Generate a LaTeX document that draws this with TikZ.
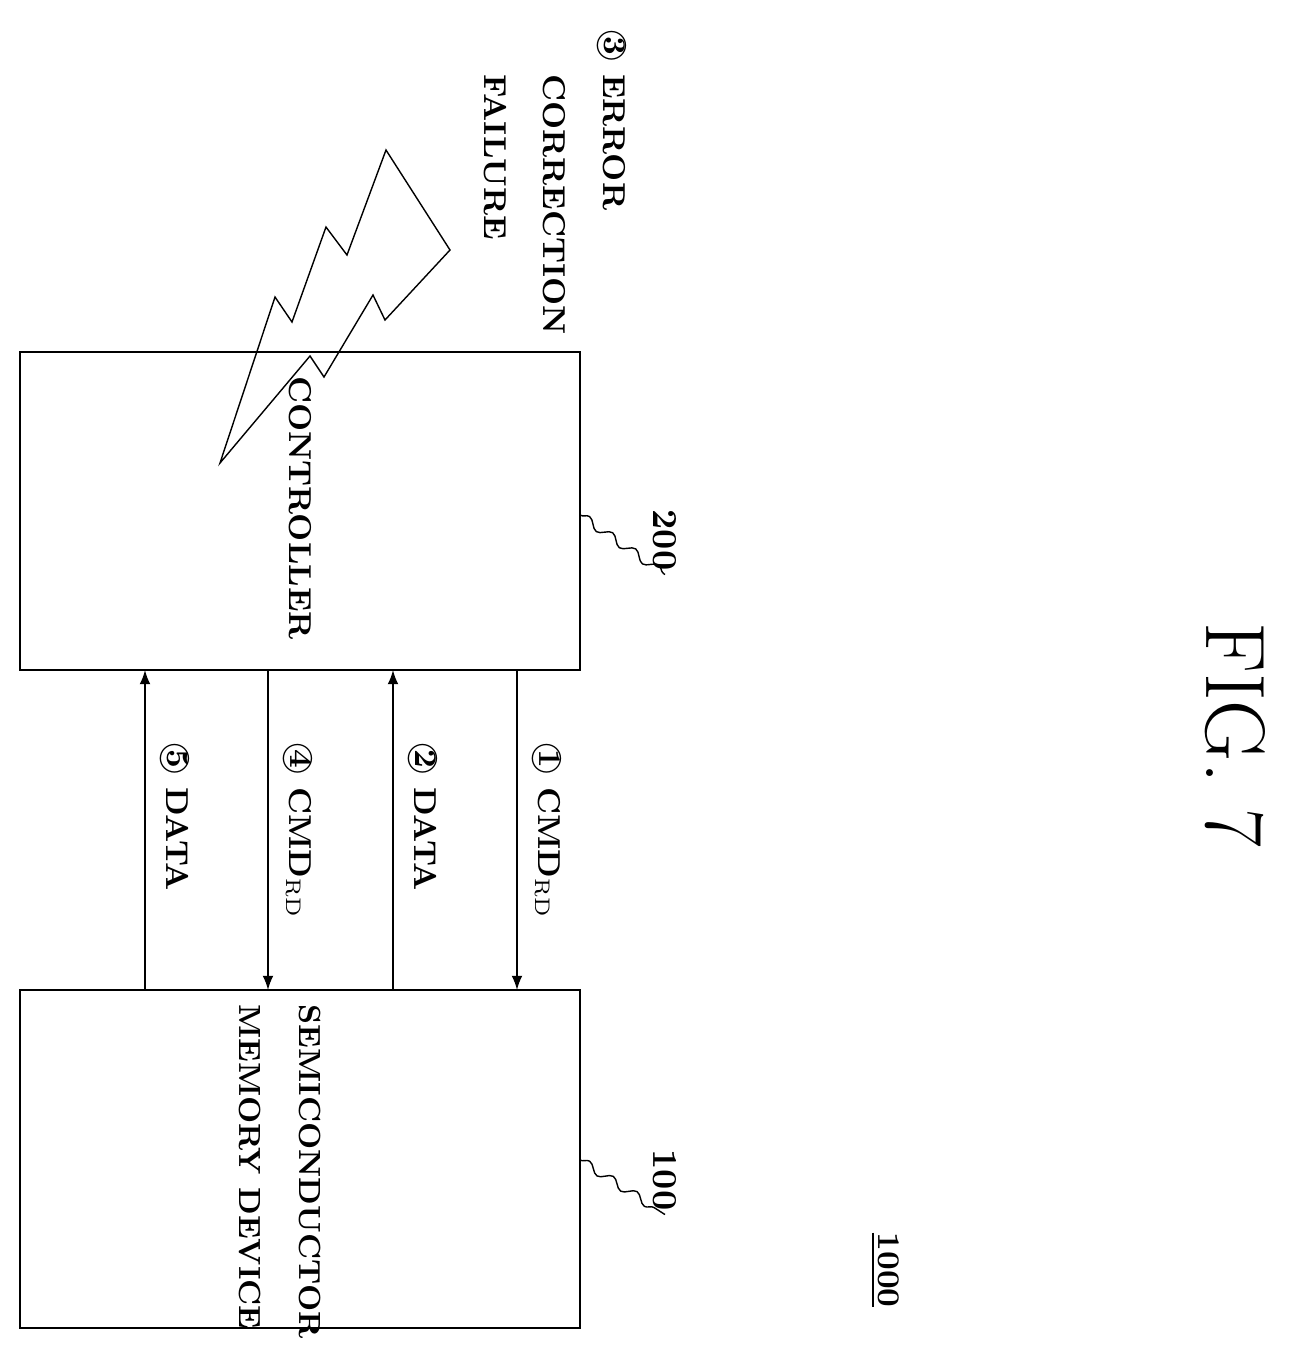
\documentclass[tikz,border=0pt]{standalone}
\usepackage{tikz}
\usetikzlibrary{decorations.pathmorphing}
\begin{document}
\begin{tikzpicture}[x=0.01cm, y=-0.01cm,
    every node/.style={font=\fontsize{9}{13}\selectfont\bfseries},
    blockbox/.style={draw, minimum width=5.6cm, inner sep=0pt},
    vtext/.style={rotate=-90, inner sep=1pt},
    sig/.style={-latex},
    leader/.style={decorate, decoration={snake, amplitude=1.2pt, segment length=8pt}}]

  \useasboundingbox (0,0) rectangle (1300,1350);

  % blocks
  \node[blockbox, minimum height=3.18cm] (ctrl) at (300,511) {};
  \node[blockbox, minimum height=3.38cm] (mem) at (300,1159) {};
  \node[vtext] (ctrltxt) at (300,508) {CONTROLLER};
  \node[vtext, align=left, anchor=north west, font=\fontsize{8.7}{17}\selectfont\bfseries] (memtxt) at (325,1000) {SEMICONDUCTOR\\MEMORY DEVICE};

  % reference numerals
  \coordinate (c200) at (580,515);
  \coordinate (c100) at (580,1160);
  \node[vtext, font=\fontsize{10}{13}\selectfont\bfseries] (n200) at (665,540) {200};
  \node[vtext, font=\fontsize{10}{13}\selectfont\bfseries] (n100) at (665,1180) {100};
  \draw[leader] (c200) -- (n200.east);
  \draw[leader] (c100) -- (n100.east);

  % signals
  \foreach \x/\dir/\txt in {517/0/{\textcircled{1} CMD$_{\mathrm{RD}}$},
                            393/1/{\textcircled{2} DATA},
                            268/0/{\textcircled{4} CMD$_{\mathrm{RD}}$},
                            145/1/{\textcircled{5} DATA}} {
    \coordinate (top\x) at (\x,670);
    \coordinate (bot\x) at (\x,990);
    \ifnum\dir=0
      \draw[sig] (top\x) -- (bot\x);
    \else
      \draw[sig] (bot\x) -- (top\x);
    \fi
    \node[vtext, anchor=north west] (lbl\x) at (\x+48,738) {\txt};
  }

  % error event
  \draw (220,463) -- (275,297) -- (292,322) -- (326,227) -- (347,255)
    -- (386,150) -- (450,250) -- (385,320) -- (373,295) -- (324,377)
    -- (310,356) -- cycle;
  \node[vtext, align=left, anchor=north west, font=\fontsize{9}{17}\selectfont\bfseries] (err) at (630,25)
    {\textcircled{3} ERROR\\\phantom{\textcircled{3} }CORRECTION\\\phantom{\textcircled{3} }FAILURE};

  \node[vtext] (sys) at (885,1270) {\underline{1000}};
  \node[rotate=-90, font=\fontsize{24}{28}\selectfont] (fig) at (1235,735) {FIG. 7};
\end{tikzpicture}
\end{document}
